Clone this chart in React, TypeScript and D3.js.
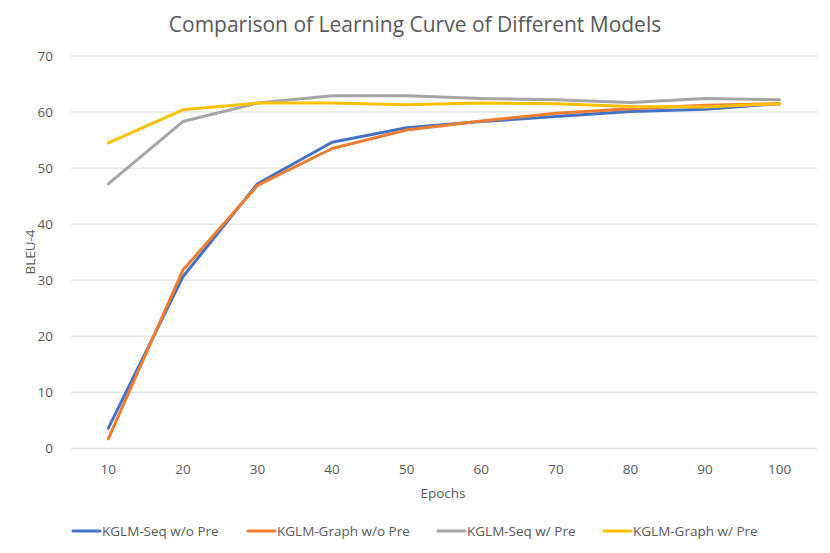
import { useEffect, useRef } from "react";
import * as d3 from "d3";

const epochs = ["10", "20", "30", "40", "50", "60", "70", "80", "90", "100"];
const seqNoPre = [3.6, 30.6, 47.2, 54.6, 57.2, 58.3, 59.2, 60.1, 60.5, 61.5];
const graphNoPre = [1.7, 31.8, 46.9, 53.5, 56.8, 58.4, 59.8, 60.6, 61.2, 61.5];
const seqPre = [47.2, 58.3, 61.6, 62.9, 62.9, 62.4, 62.2, 61.7, 62.4, 62.2];
const graphPre = [54.5, 60.4, 61.6, 61.6, 61.3, 61.6, 61.5, 61.0, 60.9, 61.5];
const yTicks = [0, 10, 20, 30, 40, 50, 60, 70];

const seriesNames = ["KGLM-Seq w/o Pre", "KGLM-Graph w/o Pre", "KGLM-Seq w/ Pre", "KGLM-Graph w/ Pre"];
const seriesValues = [seqNoPre, graphNoPre, seqPre, graphPre];
const colors = ["#4472C4", "#ED7D31", "#A5A5A5", "#FFC000"];

const App = () => {
  const svgRef = useRef<SVGSVGElement | null>(null);

  useEffect(() => {
    if (!svgRef.current) return;
    const svg = d3.select(svgRef.current);
    svg.selectAll("*").remove();

    const font = "Open Sans, sans-serif";
    const textColor = "#595959";
    const margin = { top: 56, left: 71, right: 13, bottom: 105 };
    const width = 830;
    const height = 553;

    const x = d3.scaleBand<string>()
      .domain(epochs)
      .range([margin.left, width - margin.right]);

    const y = d3.scaleLinear()
      .domain([0, 70])
      .range([height - margin.bottom + 0.3, margin.top]);

    svg.append("rect").attr("width", width).attr("height", height).attr("fill", "#fff");

    // gridlines
    svg.append("g")
      .selectAll("line")
      .data(yTicks)
      .enter().append("line")
      .attr("x1", margin.left)
      .attr("x2", width - margin.right)
      .attr("y1", d => y(d))
      .attr("y2", d => y(d))
      .attr("stroke", "#d9d9d9")
      .attr("stroke-width", 1);

    // y tick labels
    svg.append("g")
      .selectAll("text")
      .data(yTicks)
      .enter().append("text")
      .attr("x", 53)
      .attr("y", d => y(d))
      .attr("dy", "0.35em")
      .attr("text-anchor", "end")
      .attr("font-family", font)
      .attr("font-size", 13.5)
      .attr("fill", textColor)
      .text(d => d);

    // x tick labels
    svg.append("g")
      .selectAll("text")
      .data(epochs)
      .enter().append("text")
      .attr("x", d => (x(d) ?? 0) + x.bandwidth() / 2)
      .attr("y", 469)
      .attr("dy", "0.35em")
      .attr("text-anchor", "middle")
      .attr("font-family", font)
      .attr("font-size", 13.5)
      .attr("fill", textColor)
      .text(d => d);

    const line = d3.line<number>()
      .x((_, i) => (x(epochs[i]) ?? 0) + x.bandwidth() / 2)
      .y(d => y(d));

    seriesValues.forEach((vals, i) => {
      svg.append("path")
        .datum(vals)
        .attr("d", line)
        .attr("fill", "none")
        .attr("stroke", colors[i])
        .attr("stroke-width", 3)
        .attr("stroke-linejoin", "round")
        .attr("stroke-linecap", "round");
    });

    // title
    svg.append("text")
      .attr("x", 415)
      .attr("y", 25)
      .attr("dy", "0.35em")
      .attr("text-anchor", "middle")
      .attr("font-family", font)
      .attr("font-size", 21)
      .attr("fill", textColor)
      .text("Comparison of Learning Curve of Different Models");

    // axis titles
    svg.append("text")
      .attr("transform", "translate(30,252) rotate(-90)")
      .attr("dy", "0.35em")
      .attr("text-anchor", "middle")
      .attr("font-family", font)
      .attr("font-size", 13.5)
      .attr("fill", textColor)
      .text("BLEU-4");

    svg.append("text")
      .attr("x", 443)
      .attr("y", 493)
      .attr("dy", "0.35em")
      .attr("text-anchor", "middle")
      .attr("font-family", font)
      .attr("font-size", 13.5)
      .attr("fill", textColor)
      .text("Epochs");

    // legend
    const legendX = [73, 248, 438, 604];
    const legend = svg.append("g");
    seriesNames.forEach((name, i) => {
      legend.append("line")
        .attr("x1", legendX[i])
        .attr("x2", legendX[i] + 27)
        .attr("y1", 531)
        .attr("y2", 531)
        .attr("stroke", colors[i])
        .attr("stroke-width", 3)
        .attr("stroke-linecap", "round");
      legend.append("text")
        .attr("x", legendX[i] + 29)
        .attr("y", 531)
        .attr("dy", "0.35em")
        .attr("font-family", font)
        .attr("font-size", 13.5)
        .attr("fill", textColor)
        .text(name);
    });
  }, []);

  return <svg ref={svgRef} width={830} height={553} style={{ display: "block", margin: -8 }} />;
};

export default App;
